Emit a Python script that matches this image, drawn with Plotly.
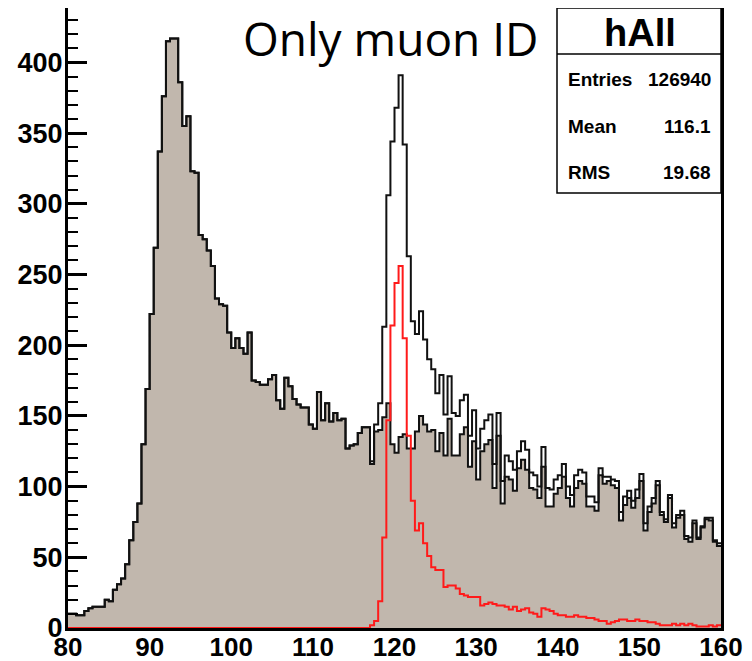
import plotly.graph_objects as go

# ---------------- data ----------------
bin_start = 80.0
bin_width = 0.5

# background histogram (filled), 160 bins of 0.5 from 80 to 160
background = [
    10, 10, 9, 9, 12, 14, 15, 15, 15, 20,          # 80.0 - 84.5
    19, 27, 31, 35, 45, 62, 75, 88, 130, 169,      # 85.0 - 89.5
    222, 269, 337, 376, 415, 417, 417, 386, 355, 362,  # 90.0 - 94.5
    323, 322, 278, 275, 267, 256, 233, 229, 228, 209,  # 95.0 - 99.5
    198, 205, 198, 194, 209, 175, 174, 172, 172, 176,  # 100.0 - 104.5
    179, 161, 155, 177, 171, 162, 158, 156, 156, 144,  # 105.0 - 109.5
    141, 167, 147, 159, 146, 152, 147, 148, 127, 129,  # 110.0 - 114.5
    130, 138, 142, 142, 116, 139, 140, 149, 159, 130,  # 115.0 - 119.5
    124, 135, 137, 127, 127, 139, 150, 144, 139, 140,  # 120.0 - 124.5
    125, 138, 122, 148, 122, 122, 137, 142, 114, 132,  # 125.0 - 129.5
    105, 125, 130, 133, 99, 136, 88, 107, 105, 97,     # 130.0 - 134.5
    113, 119, 112, 99, 98, 92, 114, 86, 86, 95,        # 135.0 - 139.5
    99, 107, 92, 86, 99, 104, 102, 86, 86, 83,         # 140.0 - 144.5
    108, 102, 104, 101, 99, 76, 87, 92, 85, 92,        # 145.0 - 149.5
    104, 69, 82, 88, 101, 80, 75, 92, 71, 78,          # 150.0 - 154.5
    80, 63, 61, 74, 63, 71, 77, 76, 61, 58,            # 155.0 - 159.5
]

# signal histogram (red line)
signal = [0] * 74 + [
    2, 5, 19, 64, 147, 214,                            # 117.0 - 119.5
    244, 256, 205, 136, 90, 69, 74, 60, 51, 43,        # 120.0 - 124.5
    41, 41, 29, 30, 30, 28, 24, 23, 22, 22,            # 125.0 - 129.5
    22, 16, 17, 18, 17, 16, 16, 15, 13, 15,            # 130.0 - 134.5
    12, 13, 14, 11, 10, 8, 14, 13, 12, 10,             # 135.0 - 139.5
    9, 9, 8, 8, 9, 8, 8, 7, 7, 6,                      # 140.0 - 144.5
    5, 5, 3, 4, 5, 6, 6, 5, 5, 6,                      # 145.0 - 149.5
    5, 5, 4, 4, 3, 2, 2, 2, 3, 2,                      # 150.0 - 154.5
    3, 2, 3, 2, 1, 1, 1, 2, 1, 2,                      # 155.0 - 159.5
]

x_tick_values = [80, 90, 100, 110, 120, 130, 140, 150, 160]
y_tick_values = [0, 50, 100, 150, 200, 250, 300, 350, 400]

title_text = "Only muon ID"
stats_name = "hAll"
stats_labels = ["Entries", "Mean", "RMS"]
stats_values = ["126940", "116.1", "19.68"]

assert len(background) == 160 and len(signal) == 160

# ---------------- build ----------------
n = len(background)
edges = [bin_start + bin_width * i for i in range(n + 1)]
total = [b + s for b, s in zip(background, signal)]


def step(vals):
    return list(vals) + [vals[-1]]


FILL = "rgb(193,183,173)"

fig = go.Figure()
fig.add_trace(go.Scatter(
    x=edges, y=step(background), mode="lines", line_shape="hv",
    line=dict(color="#111111", width=2), fill="tozeroy", fillcolor=FILL,
    hoverinfo="skip", showlegend=False))
fig.add_trace(go.Scatter(
    x=edges, y=step(total), mode="lines", line_shape="hv",
    line=dict(color="#111111", width=2),
    hoverinfo="skip", showlegend=False))
fig.add_trace(go.Scatter(
    x=edges, y=step(signal), mode="lines", line_shape="hv",
    line=dict(color="#ff1a1a", width=2),
    hoverinfo="skip", showlegend=False))

# page has an 8px body margin: compensate
OFF = 8
W, H = 752 - OFF, 661 - OFF
L, R, T, B = 68 - OFF, 31, 8 - OFF, 33
pw, ph = W - L - R, H - T - B


def px_x(p):
    return (p - OFF - L) / pw


def px_y(p):
    return (H - B - (p - OFF)) / ph


x_tick_font = dict(family="Liberation Sans", size=26, color="black", weight="bold")
y_tick_font = dict(family="Liberation Sans", size=27, color="black", weight="bold")

fig.update_layout(
    width=W, height=H,
    margin=dict(l=L, r=R, t=T, b=B, pad=0, autoexpand=False),
    paper_bgcolor="white", plot_bgcolor="white",
    xaxis=dict(range=[80, 160], tickmode="array", tickvals=x_tick_values,
               ticks="", showgrid=False, zeroline=False, automargin=False,
               showline=True, linecolor="black", linewidth=3, mirror=True,
               tickfont=x_tick_font, layer="below traces", ticklabelstandoff=-6),
    yaxis=dict(range=[0, 438.5], tickmode="array", tickvals=y_tick_values,
               ticks="inside", ticklen=19, tickwidth=2.5, tickcolor="black",
               minor=dict(dtick=10, ticks="inside", ticklen=10, tickwidth=2,
                          tickcolor="black", showgrid=False),
               showgrid=False, zeroline=False, automargin=False,
               showline=True, linecolor="black", linewidth=3, mirror=True,
               tickfont=y_tick_font, ticklabelstandoff=-3),
)

# stats box
box_x0, box_x1 = px_x(557), 1.0
box_y0, box_y1 = px_y(193), 1.0
fig.add_shape(type="rect", xref="paper", yref="paper",
              x0=box_x0, x1=box_x1, y0=box_y0, y1=box_y1,
              line=dict(color="black", width=1.5), fillcolor="white", layer="above")
fig.add_shape(type="line", xref="paper", yref="paper",
              x0=box_x0, x1=box_x1, y0=px_y(54), y1=px_y(54),
              line=dict(color="black", width=1.5), layer="above")

fig.add_annotation(xref="paper", yref="paper", x=px_x(640), y=px_y(33),
                   text=stats_name, showarrow=False, xanchor="center", yanchor="middle",
                   font=dict(family="Liberation Sans", size=38, color="black", weight="bold"))
row_y = [80, 127, 172]
for lab, val, yy in zip(stats_labels, stats_values, row_y):
    fig.add_annotation(xref="paper", yref="paper", x=px_x(566), y=px_y(yy),
                       text=lab, showarrow=False, xanchor="left", yanchor="middle",
                       font=dict(family="Liberation Sans", size=19, color="black", weight="bold"))
    fig.add_annotation(xref="paper", yref="paper", x=px_x(713), y=px_y(yy),
                       text=val, showarrow=False, xanchor="right", yanchor="middle",
                       font=dict(family="Liberation Sans", size=19, color="black", weight="bold"))

fig.add_annotation(xref="paper", yref="paper", x=px_x(241), y=px_y(38),
                   text=title_text, showarrow=False, xanchor="left", yanchor="middle",
                   font=dict(family="Open Sans", size=46, color="black"))

fig.write_html("out.html")
